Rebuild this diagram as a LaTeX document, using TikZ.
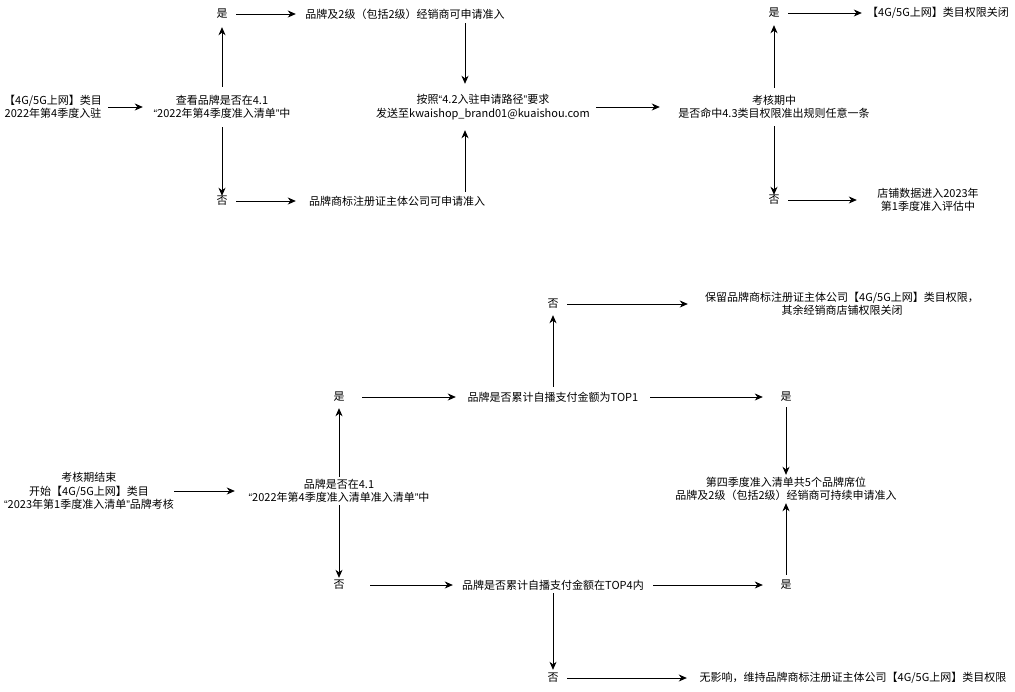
\documentclass[tikz,border=0pt]{standalone}
\usepackage{fontspec}
\setmainfont{Noto Sans CJK SC}
\newfontfamily\latfont{Liberation Sans}
\usetikzlibrary{arrows.meta}
\newcommand{\myoq}{{\latfont “}}
\newcommand{\mycq}{{\latfont ”}}
\tikzset{
  lbl/.style={inner sep=0pt, align=center, font=\fontsize{11}{13.5}\selectfont, text=black},
  conn/.style={draw=black, line width=0.8pt, -{Stealth[length=8pt,width=7pt,inset=2.5pt]}},
}
\begin{document}
\begin{tikzpicture}[x=1pt,y=-1pt]
\useasboundingbox (0,0) rectangle (1015,691);
% ---------- top ----------
\node[lbl, minimum width=110, minimum height=30] (L1) at (53,107) {【4G/5G上网】类目\\2022年第4季度入驻};
\node[lbl, minimum width=158, minimum height=40] (D1) at (222,107) {查看品牌是否在4.1\\\myoq2022年第4季度准入清单\mycq 中};
\node[lbl, minimum width=28, minimum height=26] (Y1) at (222,14) {是};
\node[lbl, minimum width=28, minimum height=10] (N1) at (222,201) {否};
\node[lbl, minimum width=218, minimum height=18] (A1) at (405,14) {品牌及2级（包括2级）经销商可申请准入};
\node[lbl, minimum width=202, minimum height=18] (B1) at (397,201) {品牌商标注册证主体公司可申请准入};
\node[lbl, minimum width=226, minimum height=46] (MID) at (483,107) {按照\myoq 4.2入驻申请路径\mycq 要求\\发送至kwaishop\_brand01@kuaishou.com};
\coordinate (c) at (465,0);
\node[lbl, minimum width=228, minimum height=38] (D2) at (774,107) {考核期中\\是否命中4.3类目权限准出规则任意一条};
\node[lbl, minimum width=28, minimum height=24] (Y2) at (774,13) {是};
\node[lbl, minimum width=28, minimum height=10] (N2) at (774,200) {否};
\node[lbl, minimum width=152, minimum height=18] (A2) at (938,13) {【4G/5G上网】类目权限关闭};
\node[lbl, minimum width=142, minimum height=30] (B2) at (928,200) {店铺数据进入2023年\\第1季度准入评估中};

\draw[conn] (L1.east) -- (D1.west);
\draw[conn] (D1.north) -- (Y1.south);
\draw[conn] (D1.south) -- (N1.north);
\draw[conn] (Y1.east) -- (A1.west);
\draw[conn] (N1.east) -- (B1.west);
\draw[conn] (A1.south -| c) -- (MID.north -| c);
\draw[conn] (B1.north -| c) -- (MID.south -| c);
\draw[conn] (MID.east) -- (D2.west);
\draw[conn] (D2.north) -- (Y2.south);
\draw[conn] (D2.south) -- (N2.north);
\draw[conn] (Y2.east) -- (A2.west);
\draw[conn] (N2.east) -- (B2.west);

% ---------- bottom ----------
\node[lbl, minimum width=168, minimum height=45] (S) at (89,491) {考核期结束\\开始【4G/5G上网】类目\\\myoq2023年第1季度准入清单\mycq 品牌考核};
\node[lbl, minimum width=208, minimum height=28] (D3) at (339,491) {品牌是否在4.1\\\myoq2022年第4季度准入清单准入清单\mycq 中};
\node[lbl, minimum width=46, minimum height=22] (Y3) at (339,397) {是};
\node[lbl, minimum width=62, minimum height=14] (N3) at (339,585) {否};
\node[lbl, minimum width=194, minimum height=20] (T1) at (553,397) {品牌是否累计自播支付金额为TOP1};
\node[lbl, minimum width=28, minimum height=22] (N4) at (553,304) {否};
\node[lbl, minimum width=308, minimum height=30] (K1) at (842,304) {保留品牌商标注册证主体公司【4G/5G上网】类目权限，\\其余经销商店铺权限关闭};
\node[lbl, minimum width=46, minimum height=20] (Y4) at (786,397) {是};
\node[lbl, minimum width=230, minimum height=28] (Q) at (786,489) {第四季度准入清单共5个品牌席位\\品牌及2级（包括2级）经销商可持续申请准入};
\node[lbl, minimum width=200, minimum height=16] (T4) at (553,585) {品牌是否累计自播支付金额在TOP4内};
\node[lbl, minimum width=46, minimum height=20] (Y5) at (786,585) {是};
\node[lbl, minimum width=28, minimum height=16] (N6) at (553,678) {否};
\node[lbl, minimum width=332, minimum height=16] (K2) at (853,678) {无影响，维持品牌商标注册证主体公司【4G/5G上网】类目权限};

\draw[conn] (S.east) -- (D3.west);
\draw[conn] (D3.north) -- (Y3.south);
\draw[conn] (D3.south) -- (N3.north);
\draw[conn] (Y3.east) -- (T1.west);
\draw[conn] (T1.north) -- (N4.south);
\draw[conn] (N4.east) -- (K1.west);
\draw[conn] (T1.east) -- (Y4.west);
\draw[conn] (Y4.south) -- (Q.north);
\draw[conn] (N3.east) -- (T4.west);
\draw[conn] (T4.east) -- (Y5.west);
\draw[conn] (Y5.north) -- (Q.south);
\draw[conn] (T4.south) -- (N6.north);
\draw[conn] (N6.east) -- (K2.west);
\end{tikzpicture}
\end{document}
